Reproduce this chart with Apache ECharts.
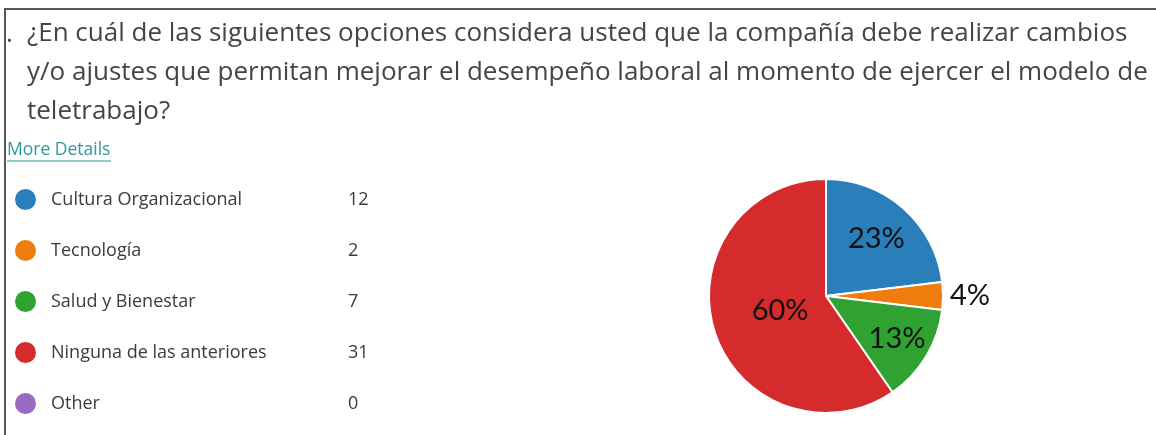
<!DOCTYPE html>
<html>
<head>
<meta charset="utf-8">
<script src="https://cdn.jsdelivr.net/npm/echarts@6/dist/echarts.min.js"></script>
<style>
  html, body { margin: 0; padding: 0; background: #fff; }
  #chart { width: 1156px; height: 435px; }
</style>
</head>
<body>
<div id="chart"></div>
<script>
// datos de la encuesta
const categories = ['Cultura Organizacional', 'Tecnología', 'Salud y Bienestar', 'Ninguna de las anteriores', 'Other']
const counts = [12, 2, 7, 31, 0]
const colors = ['#2a7fba', '#ef7d0e', '#30a232', '#d62b2d', '#9a6bbf']

const question = '¿En cuál de las siguientes opciones considera usted que la compañía debe realizar cambios\n' +
  'y/o ajustes que permitan mejorar el desempeño laboral al momento de ejercer el modelo de\n' +
  'teletrabajo?'

// distancia de cada etiqueta al centro (px), como en la imagen
const labelRadius = [73, 0, 80, 45, 0]
const pieRadius = 117

const chart = echarts.init(document.getElementById('chart'))

const total = counts.reduce((a, b) => a + b, 0)

const pieData = categories.map((name, i) => {
  const item = { name: name, value: counts[i], itemStyle: { color: colors[i] } }
  // el 4% va fuera de la porción
  if (name === 'Tecnología') {
    item.label = { position: 'outside' }
    item.labelLine = { show: false, length: 2, length2: 0 }
  }
  if (counts[i] === 0) item.label = { show: false }
  return item
})

// mueve las etiquetas internas al radio deseado
function moveLabel(params) {
  const i = params.dataIndex
  if (!labelRadius[i]) return {}
  let before = 0
  for (let k = 0; k < i; k++) before += counts[k]
  const mid = (before + counts[i] / 2) / total * Math.PI * 2
  const d = labelRadius[i] - pieRadius / 2
  return { dx: d * Math.sin(mid), dy: -d * Math.cos(mid) }
}

chart.setOption({
  animation: false,
  title: {
    text: question,
    left: 22,
    top: 9,
    textStyle: {
      fontFamily: 'Open Sans',
      fontSize: 26,
      fontWeight: 'normal',
      color: '#454545',
      lineHeight: 39
    }
  },
  legend: {
    orient: 'vertical',
    left: 8,
    top: 182,
    icon: 'circle',
    itemWidth: 23,
    itemHeight: 23,
    itemGap: 26,
    selectedMode: false,
    formatter: function (name) {
      const v = counts[categories.indexOf(name)]
      return '{n|' + name + '}{v|' + v + '}'
    },
    textStyle: {
      fontFamily: 'Open Sans',
      fontSize: 18,
      color: '#3b3b3b',
      lineHeight: 23,
      rich: {
        n: { width: 297, padding: [0, 0, 0, 9], fontSize: 18, color: '#3b3b3b', fontFamily: 'Open Sans' },
        v: { fontSize: 18, color: '#3b3b3b', fontFamily: 'Open Sans' }
      }
    }
  },
  graphic: [
    {
      type: 'polyline',
      shape: { points: [[5, 435], [5, 9], [1156, 9]] },
      style: { stroke: '#555', lineWidth: 2, fill: null }
    },
    {
      type: 'text',
      left: 6,
      top: 22,
      style: { text: '.', fontFamily: 'Open Sans', fontSize: 26, fill: '#454545' }
    },
    {
      type: 'text',
      left: 7,
      top: 141,
      style: { text: 'More Details', fontFamily: 'Open Sans', fontSize: 17.5, fill: '#2a9a9e' }
    },
    {
      type: 'line',
      shape: { x1: 7, y1: 161, x2: 111, y2: 161 },
      style: { stroke: '#2a9a9e', lineWidth: 1 }
    }
  ],
  series: [
    {
      type: 'pie',
      center: [826, 296],
      radius: pieRadius,
      startAngle: 90,
      clockwise: true,
      stillShowZeroSum: false,
      data: pieData,
      itemStyle: { borderColor: '#fff', borderWidth: 2 },
      label: {
        show: true,
        position: 'inside',
        formatter: p => Math.round(p.percent) + '%',
        fontFamily: 'Lato',
        fontSize: 29,
        color: '#111'
      },
      labelLayout: moveLabel,
      labelLine: { show: false },
      emphasis: { disabled: true }
    }
  ]
})
</script>
</body>
</html>
